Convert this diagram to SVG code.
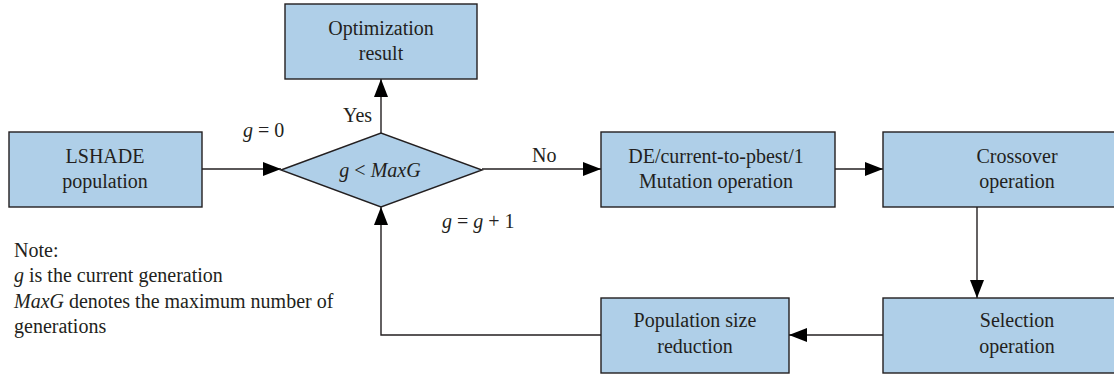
<svg xmlns="http://www.w3.org/2000/svg" width="1114" height="377" viewBox="0 0 1114 377">
<style>
.nodebox{fill:#afcfe8;stroke:#231f20;stroke-width:1.4}
.edge{fill:none;stroke:#231f20;stroke-width:1.4}
</style>
<defs>
<marker id="ah" markerUnits="userSpaceOnUse" markerWidth="18" markerHeight="14" refX="18" refY="7" orient="auto">
<path d="M0,0 L18,7 L0,14 Z" fill="#000"/>
</marker>
</defs>
<rect width="1114" height="377" fill="#fff"/>
<g id="connectors">
<line class="edge" x1="202" y1="169" x2="281" y2="169" marker-end="url(#ah)"/>
<line class="edge" x1="381" y1="133" x2="381" y2="79" marker-end="url(#ah)"/>
<line class="edge" x1="482" y1="169" x2="601" y2="169" marker-end="url(#ah)"/>
<line class="edge" x1="835" y1="169" x2="883" y2="169" marker-end="url(#ah)"/>
<line class="edge" x1="977" y1="207" x2="977" y2="298" marker-end="url(#ah)"/>
<line class="edge" x1="883" y1="335" x2="789" y2="335" marker-end="url(#ah)"/>
<polyline class="edge" points="601,335 381,335 381,207" marker-end="url(#ah)"/>
<text font-family="Liberation Serif" font-size="20" fill="#231f20" x="243" y="137"><tspan font-style="italic">g</tspan> = 0</text>
<text font-family="Liberation Serif" font-size="20" fill="#231f20" x="343" y="122">Yes</text>
<text font-family="Liberation Serif" font-size="20" fill="#231f20" x="532" y="162">No</text>
<text font-family="Liberation Serif" font-size="20" fill="#231f20" x="442" y="228"><tspan font-style="italic">g</tspan> = <tspan font-style="italic">g</tspan> + 1</text>
</g>
<g id="opt">
<rect class="nodebox" x="285" y="4" width="192" height="75"/>
<text font-family="Liberation Serif" font-size="20" fill="#231f20" text-anchor="middle" x="381" y="35">Optimization</text>
<text font-family="Liberation Serif" font-size="20" fill="#231f20" text-anchor="middle" x="381" y="60">result</text>
</g>
<g id="lshade">
<rect class="nodebox" x="9" y="132" width="193" height="75"/>
<text font-family="Liberation Serif" font-size="20" fill="#231f20" text-anchor="middle" x="105" y="163">LSHADE</text>
<text font-family="Liberation Serif" font-size="20" fill="#231f20" text-anchor="middle" x="105" y="188">population</text>
</g>
<g id="decision">
<polygon class="nodebox" points="281,170 381,133 482,170 381,207"/>
<text font-family="Liberation Serif" font-size="20" fill="#231f20" text-anchor="middle" x="380" y="177"><tspan font-style="italic">g</tspan> &lt; <tspan font-style="italic">MaxG</tspan></text>
</g>
<g id="mutation">
<rect class="nodebox" x="601" y="132" width="234" height="75"/>
<text font-family="Liberation Serif" font-size="20" fill="#231f20" text-anchor="middle" x="716" y="163">DE/current-to-pbest/1</text>
<text font-family="Liberation Serif" font-size="20" fill="#231f20" text-anchor="middle" x="716" y="188">Mutation operation</text>
</g>
<g id="crossover">
<rect class="nodebox" x="883" y="132" width="268" height="75"/>
<text font-family="Liberation Serif" font-size="20" fill="#231f20" text-anchor="middle" x="1017" y="163">Crossover</text>
<text font-family="Liberation Serif" font-size="20" fill="#231f20" text-anchor="middle" x="1017" y="188">operation</text>
</g>
<g id="selection">
<rect class="nodebox" x="883" y="298" width="268" height="75"/>
<text font-family="Liberation Serif" font-size="20" fill="#231f20" text-anchor="middle" x="1017" y="327">Selection</text>
<text font-family="Liberation Serif" font-size="20" fill="#231f20" text-anchor="middle" x="1017" y="353">operation</text>
</g>
<g id="reduction">
<rect class="nodebox" x="601" y="298" width="188" height="75"/>
<text font-family="Liberation Serif" font-size="20" fill="#231f20" text-anchor="middle" x="695" y="327">Population size</text>
<text font-family="Liberation Serif" font-size="20" fill="#231f20" text-anchor="middle" x="695" y="353">reduction</text>
</g>
<g id="note">
<text font-family="Liberation Serif" font-size="20" fill="#231f20" x="14" y="257">Note:</text>
<text font-family="Liberation Serif" font-size="20" fill="#231f20" x="14" y="282"><tspan font-style="italic">g</tspan> is the current generation</text>
<text font-family="Liberation Serif" font-size="20" fill="#231f20" x="14" y="308"><tspan font-style="italic">MaxG</tspan> denotes the maximum number of</text>
<text font-family="Liberation Serif" font-size="20" fill="#231f20" x="14" y="333">generations</text>
</g>
</svg>
